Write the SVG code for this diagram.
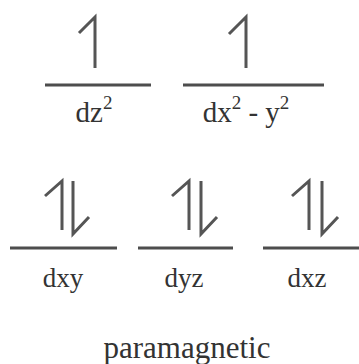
<svg xmlns="http://www.w3.org/2000/svg" width="359" height="364" viewBox="0 0 359 364">
<style>
.ln{stroke:#4d4d4d;stroke-width:3;fill:none}
.ar{stroke:#555;stroke-width:3;fill:none;stroke-linecap:butt;stroke-linejoin:miter}
.lb{font-family:"Liberation Serif",serif;font-size:27px;fill:#333;text-anchor:middle}
.lt{font-family:"Liberation Serif",serif;font-size:29px;fill:#333;text-anchor:middle}
</style>
<rect width="359" height="364" fill="#fff"/>
<g id="dz2">
<path class="ar" d="M79,33 L95,17 L95,68"/>
<line class="ln" x1="45" y1="85" x2="151" y2="85"/>
<text class="lt" x="94" y="122">dz<tspan font-size="19" dy="-13">2</tspan></text>
</g>
<g id="dx2y2">
<path class="ar" d="M229,34 L246,17 L246,68"/>
<line class="ln" x1="183" y1="85" x2="324" y2="85"/>
<text class="lt" x="246" y="122">dx<tspan font-size="19" dy="-13">2</tspan><tspan dy="13"> - y</tspan><tspan font-size="19" dy="-13">2</tspan></text>
</g>
<g id="dxy">
<path class="ar" d="M45,196 L62,181 L62,230"/>
<path class="ar" d="M73,181 L73,234 L89,217"/>
<line class="ln" x1="10" y1="248" x2="117" y2="248"/>
<text class="lb" x="63" y="287">dxy</text>
</g>
<g id="dyz">
<path class="ar" d="M172,196 L189,181 L189,230"/>
<path class="ar" d="M201,181 L201,234 L217,217"/>
<line class="ln" x1="138" y1="248" x2="233" y2="248"/>
<text class="lb" x="184" y="287">dyz</text>
</g>
<g id="dxz">
<path class="ar" d="M292,196 L309,181 L309,230"/>
<path class="ar" d="M322,181 L322,234 L338,217"/>
<line class="ln" x1="263" y1="248" x2="359" y2="248"/>
<text class="lb" x="307" y="287">dxz</text>
</g>
<g id="connectors"/>
<text id="paramagnetic" x="187" y="358" font-family="Liberation Serif, serif" font-size="31" fill="#333" text-anchor="middle">paramagnetic</text>
</svg>
